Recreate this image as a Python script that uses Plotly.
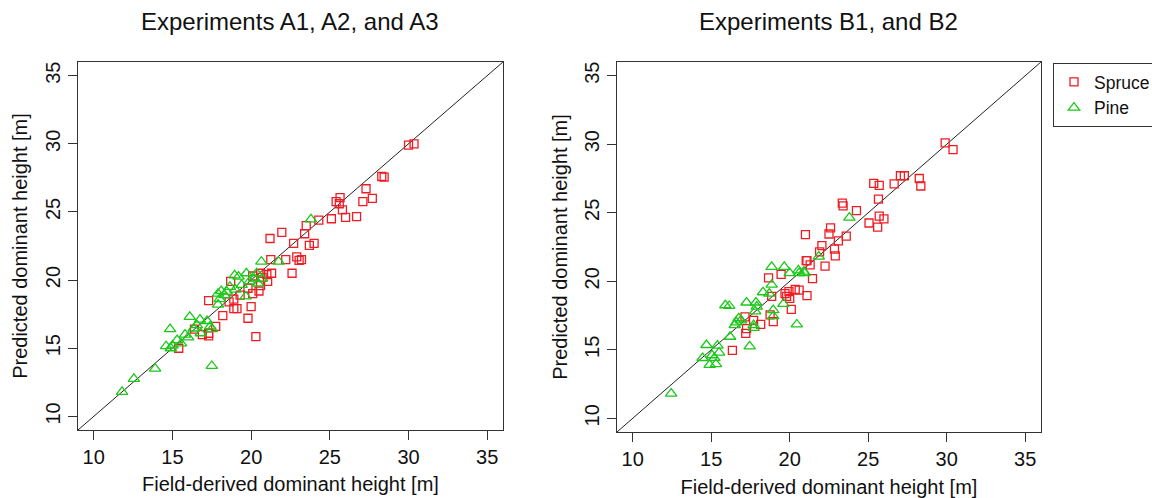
import plotly.graph_objects as go

# Axis limits shared by both panels and tick positions
AXIS_LIMITS = [9, 36]
TICKS = [10, 15, 20, 25, 30, 35]

PANEL_TITLES = ["Experiments A1, A2, and A3", "Experiments B1, and B2"]
X_TITLE = "Field-derived dominant height [m]"
Y_TITLE = "Predicted dominant height [m]"

# Experiments A1, A2, A3: field-derived (x) vs predicted (y) dominant height
spruce_a_field = [15.4, 16.4, 17.3, 17.3, 17.75, 18.2, 17.3, 18.9, 19.1, 18.9, 18.7, 19.8,
                  20.1, 20.5, 20.0, 19.8, 20.3, 21.2, 20.6, 21.0, 21.3, 28.3, 28.45, 27.3,
                  27.7, 27.1, 25.65, 25.4, 25.6, 25.8, 25.1, 26.0, 26.7, 24.3, 23.5, 21.95,
                  23.4, 22.7, 24.0, 23.7, 22.9, 23.05, 23.2, 22.2, 22.6, 21.25, 20.7, 20.6,
                  21.05, 20.1, 30.0, 30.35, 16.9, 18.6, 19.3]
spruce_a_pred = [15.0, 16.4, 16.1, 15.9, 16.6, 17.4, 18.5, 17.9, 17.9, 18.6, 19.9, 19.4,
                 19.0, 19.2, 18.05, 17.2, 15.85, 23.05, 20.5, 20.4, 20.5, 27.6, 27.55, 26.7,
                 26.0, 25.75, 26.05, 25.75, 25.6, 25.15, 24.5, 24.6, 24.65, 24.4, 24.0, 23.5,
                 23.4, 22.7, 22.7, 22.55, 21.7, 21.45, 21.5, 21.5, 20.5, 21.5, 20.2, 19.6,
                 19.9, 20.3, 29.9, 30.0, 16.0, 18.4, 18.9]

pine_a_field = [11.8, 12.55, 13.9, 17.5, 14.85, 14.6, 15.3, 15.55, 15.0, 16.1, 16.0, 16.75,
                16.55, 16.35, 16.8, 17.4, 17.5, 17.9, 18.0, 17.9, 18.1, 18.95, 19.2, 19.7,
                18.45, 18.65, 19.4, 19.65, 20.45, 20.65, 20.35, 23.8, 21.75, 20.2, 20.7,
                19.0, 17.2, 15.8, 14.9, 18.3, 19.9]
pine_a_pred = [11.8, 12.75, 13.5, 13.7, 16.4, 15.15, 15.6, 15.35, 15.2, 17.3, 15.8, 17.1,
               16.7, 16.45, 16.1, 16.6, 16.4, 19.0, 18.6, 18.2, 19.2, 20.35, 20.25, 20.5,
               19.15, 19.5, 19.65, 18.8, 19.75, 21.35, 20.5, 24.45, 21.35, 20.1, 20.1,
               19.3, 17.0, 16.0, 15.0, 18.9, 19.9]

# Experiments B1, B2
spruce_b_field = [16.35, 17.15, 17.25, 17.2, 17.7, 18.15, 18.65, 19.45, 18.75, 18.95, 18.85,
                  19.7, 19.8, 19.95, 20.35, 20.6, 20.0, 20.1, 21.05, 21.1, 21.0, 25.35, 25.7,
                  26.65, 27.05, 27.3, 28.25, 28.35, 25.65, 23.35, 23.4, 24.25, 25.7, 26.0,
                  25.05, 25.6, 22.6, 22.5, 23.6, 23.1, 22.05, 22.85, 22.9, 21.9, 21.1, 21.3,
                  22.25, 21.45, 29.9, 30.4]
spruce_b_pred = [14.95, 17.4, 16.55, 16.2, 17.15, 16.85, 20.25, 20.5, 17.55, 17.05, 18.9,
                 19.1, 18.9, 19.25, 19.4, 19.35, 18.75, 17.95, 21.5, 18.95, 23.4, 27.15, 27.0,
                 27.1, 27.7, 27.7, 27.5, 26.95, 26.0, 25.7, 25.5, 25.15, 24.75, 24.55,
                 24.25, 23.95, 23.9, 23.45, 23.3, 22.95, 22.6, 22.35, 21.85, 22.15, 21.5, 21.2,
                 21.1, 20.2, 30.1, 29.6]

pine_b_field = [12.45, 14.7, 15.4, 14.45, 15.05, 15.5, 14.9, 15.3, 15.2, 15.9, 16.15, 16.75,
                16.9, 16.5, 16.2, 16.6, 17.45, 17.25, 17.85, 17.9, 17.8, 18.95, 18.95, 18.3,
                18.85, 18.85, 19.65, 20.0, 19.6, 20.45, 20.55, 20.95, 17.7, 17.7, 18.7,
                23.8, 21.85, 20.9, 20.6]
pine_b_pred = [11.8, 15.35, 15.3, 14.4, 14.6, 14.8, 13.9, 13.95, 14.4, 18.25, 18.2, 17.3,
               17.15, 16.8, 15.95, 17.0, 15.25, 18.45, 18.45, 18.15, 17.8, 17.9, 17.45, 19.2,
               19.75, 21.05, 21.05, 20.6, 18.35, 16.85, 20.8, 20.6, 16.8, 16.6, 19.1,
               24.65, 21.8, 20.7, 20.6]

RED = "#f01c24"
GREEN = "#1bc81b"
FONT = "Liberation Sans, Arial, sans-serif"
INK = "#111111"

fig = go.Figure()

panels = [
    ("x", "y", spruce_a_field, spruce_a_pred, pine_a_field, pine_a_pred, True),
    ("x2", "y2", spruce_b_field, spruce_b_pred, pine_b_field, pine_b_pred, False),
]

for xa, ya, sx, sy, px, py, show in panels:
    # 1:1 reference line across the full plotting region
    fig.add_trace(go.Scatter(
        x=AXIS_LIMITS, y=AXIS_LIMITS, mode="lines",
        line=dict(color="#222222", width=1), xaxis=xa, yaxis=ya,
        showlegend=False, hoverinfo="skip"))
    fig.add_trace(go.Scatter(
        x=sx, y=sy, mode="markers", name="Spruce",
        marker=dict(symbol="square-open", size=8, color=RED, line=dict(width=1.3)),
        xaxis=xa, yaxis=ya, showlegend=show))
    fig.add_trace(go.Scatter(
        x=px, y=py, mode="markers", name="Pine",
        marker=dict(symbol="triangle-up-open", size=10, color=GREEN, line=dict(width=1.3)),
        xaxis=xa, yaxis=ya, showlegend=show))

axis_common = dict(
    range=AXIS_LIMITS, tickvals=TICKS, ticks="outside", ticklen=9, tickwidth=1,
    tickcolor="#333333", showline=True, linecolor="#333333", linewidth=1,
    mirror=True, showgrid=False, zeroline=False,
    tickfont=dict(family=FONT, size=20, color=INK),
    title_font=dict(family=FONT, size=20, color=INK),
)

fig.update_layout(
    width=1152, height=498, autosize=False,
    # the legend runs off the right edge; keep the panel areas fixed
    margin=dict(l=0, r=0, t=0, b=0, autoexpand=False),
    paper_bgcolor="white", plot_bgcolor="white",
    font=dict(family=FONT, color=INK),
    xaxis=dict(domain=[0.0677, 0.4366], anchor="y", **axis_common,
               title=dict(text=X_TITLE, standoff=9)),
    yaxis=dict(domain=[0.1365, 0.8755], anchor="x", tickangle=-90, **axis_common,
               title=dict(text=Y_TITLE, standoff=8)),
    xaxis2=dict(domain=[0.5356, 0.9036], anchor="y2", **axis_common,
                title=dict(text=X_TITLE, standoff=15)),
    yaxis2=dict(domain=[0.1325, 0.8755], anchor="x2", tickangle=-90, **axis_common,
                title=dict(text=Y_TITLE, standoff=8)),
    legend=dict(
        x=1053 / 1152, y=1 - 63 / 498, xanchor="left", yanchor="top",
        bordercolor="#333333", borderwidth=1, bgcolor="white",
        font=dict(family=FONT, size=17.5, color=INK),
        itemwidth=30, tracegroupgap=0),
    showlegend=True,
)

for i, title in enumerate(PANEL_TITLES):
    dom = fig.layout.xaxis.domain if i == 0 else fig.layout.xaxis2.domain
    fig.add_annotation(
        text=title, xref="paper", yref="paper",
        x=(dom[0] + dom[1]) / 2, y=1 - 22 / 498,
        xanchor="center", yanchor="middle", showarrow=False,
        font=dict(family=FONT, size=24, color=INK))

fig.write_html("out.html")
